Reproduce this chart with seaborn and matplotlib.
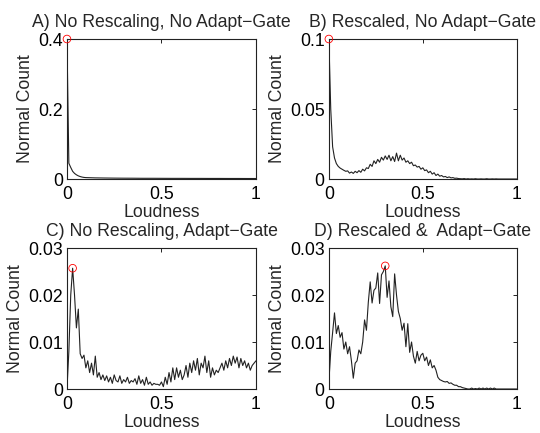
import numpy as np
import pandas as pd
import matplotlib
matplotlib.use("Agg")
import seaborn as sns
from matplotlib import pyplot as plt

########
# DATA #
########

# loudness histogram bins (every 0.01 from 0 to 1)
loudness_bins = np.round(np.linspace(0, 1, 101), 2)

loudness_a = [0.0, 0.01, 0.02, 0.03, 0.04, 0.05, 0.06, 0.07, 0.08, 0.09, 0.10,
              0.15, 0.20, 0.25, 0.30, 0.35, 0.40, 0.45, 0.50, 0.55, 0.60,
              0.65, 0.70, 0.75, 0.80, 0.85, 0.90, 0.95, 1.0]
count_a = [0.400, 0.045, 0.033, 0.022, 0.016, 0.012, 0.009, 0.007, 0.0055, 0.0045, 0.004,
           0.0032, 0.0028, 0.0025, 0.0023, 0.0022, 0.0020, 0.0020, 0.0019, 0.0018, 0.0018,
           0.0017, 0.0017, 0.0016, 0.0016, 0.0015, 0.0015, 0.0014, 0.0014]

count_b = [0.100, 0.050, 0.023, 0.015, 0.011, 0.0090, 0.0078, 0.0070, 0.0062, 0.0055,
           0.0058, 0.0042, 0.0050, 0.0040, 0.0055, 0.0045, 0.0060, 0.0048, 0.0070, 0.0058,
           0.0080, 0.0075, 0.0105, 0.0090, 0.0130, 0.0110, 0.0140, 0.0120, 0.0155, 0.0135,
           0.0165, 0.0140, 0.0170, 0.0130, 0.0160, 0.0125, 0.0185, 0.0130, 0.0170, 0.0135,
           0.0150, 0.0120, 0.0130, 0.0110, 0.0120, 0.0095, 0.0100, 0.0085, 0.0090, 0.0070,
           0.0080, 0.0060, 0.0065, 0.0045, 0.0055, 0.0035, 0.0045, 0.0025, 0.0035, 0.0020,
           0.0025, 0.0015, 0.0018, 0.0010, 0.0015, 0.0008, 0.0010, 0.0005, 0.0006, 0.0003,
           0.0002, 0.0001, 0.0003, 0.0, 0.0002, 0.0, 0.0001, 0.0, 0.0002, 0.0,
           0.0, 0.0001, 0.0, 0.0, 0.0002, 0.0, 0.0, 0.0001, 0.0, 0.0001,
           0.0, 0.0, 0.0, 0.0, 0.0, 0.0, 0.0, 0.0, 0.0, 0.0,
           0.0]

count_c = [0.0, 0.008, 0.020, 0.0257, 0.020, 0.013, 0.017, 0.0075, 0.0065, 0.0072,
           0.0045, 0.0060, 0.0035, 0.0055, 0.0030, 0.0070, 0.0025, 0.0035, 0.0020, 0.0030,
           0.0018, 0.0028, 0.0015, 0.0025, 0.0012, 0.0030, 0.0018, 0.0015, 0.0028, 0.0012,
           0.0020, 0.0015, 0.0025, 0.0012, 0.0018, 0.0015, 0.0022, 0.0010, 0.0028, 0.0012,
           0.0020, 0.0008, 0.0025, 0.0010, 0.0015, 0.0008, 0.0012, 0.0010, 0.0010, 0.0008,
           0.0015, 0.0005, 0.0025, 0.0010, 0.0035, 0.0015, 0.0045, 0.0020, 0.0045, 0.0025,
           0.0040, 0.0020, 0.0030, 0.0050, 0.0025, 0.0055, 0.0035, 0.0060, 0.0040, 0.0065,
           0.0030, 0.0055, 0.0045, 0.0070, 0.0035, 0.0060, 0.0025, 0.0045, 0.0030, 0.0040,
           0.0035, 0.0045, 0.0055, 0.0040, 0.0060, 0.0045, 0.0065, 0.0050, 0.0070, 0.0055,
           0.0068, 0.0045, 0.0065, 0.0050, 0.0060, 0.0045, 0.0055, 0.0040, 0.0050, 0.0055,
           0.0060]

count_d = [0.0015, 0.0080, 0.0120, 0.0162, 0.0118, 0.0135, 0.0110, 0.0120, 0.0085, 0.0100,
           0.0075, 0.0090, 0.0060, 0.0023, 0.0055, 0.0060, 0.0083, 0.0075, 0.0100, 0.0147,
           0.0125, 0.0185, 0.0228, 0.0183, 0.0210, 0.0215, 0.0247, 0.0182, 0.0243, 0.0250,
           0.0262, 0.0195, 0.0230, 0.0175, 0.0154, 0.0245, 0.0200, 0.0165, 0.0150, 0.0125,
           0.0140, 0.0090, 0.0139, 0.0078, 0.0100, 0.0070, 0.0055, 0.0080, 0.0060, 0.0072,
           0.0076, 0.0060, 0.0068, 0.0050, 0.0062, 0.0045, 0.0050, 0.0040, 0.0025, 0.0020,
           0.0018, 0.0016, 0.0015, 0.0016, 0.0012, 0.0013, 0.0010, 0.0008, 0.0008, 0.0005,
           0.0005, 0.0003, 0.0002, 0.0001, 0.0, 0.0, 0.0002, 0.0, 0.0001, 0.0,
           0.0002, 0.0, 0.0002, 0.0, 0.0002, 0.0, 0.0002, 0.0, 0.0002, 0.0,
           0.0, 0.0, 0.0, 0.0, 0.0, 0.0, 0.0, 0.0, 0.0, 0.0,
           0.0]

titles = ["A) No Rescaling, No Adapt\u2212Gate", "B) Rescaled, No Adapt\u2212Gate",
          "C) No Rescaling, Adapt\u2212Gate", "D) Rescaled &  Adapt\u2212Gate"]
x_ticks = [0, 0.5, 1]
x_tick_labels = ["0", "0.5", "1"]
y_ticks_ab = [[0, 0.2, 0.4], [0, 0.05, 0.1]]
y_tick_labels_ab = [["0", "0.2", "0.4"], ["0", "0.05", "0.1"]]
y_ticks_cd = [0, 0.01, 0.02, 0.03]
y_tick_labels_cd = ["0", "0.01", "0.02", "0.03"]

############
# PLOTTING #
############

sns.set_style("white")
plt.rcParams['font.family'] = ['Liberation Sans', 'DejaVu Sans']
plt.rcParams.update({
    "xtick.direction": "in", "ytick.direction": "in",
    "xtick.top": True, "ytick.right": True,
    "xtick.major.size": 3, "ytick.major.size": 3,
    "xtick.major.width": 0.6, "ytick.major.width": 0.6,
    "xtick.color": "black", "ytick.color": "black",
    "axes.edgecolor": "#222222", "axes.linewidth": 0.8,
    "font.size": 12.7,
})

fig = plt.figure(figsize=(5.4, 4.33), dpi=100)

panels = [
    dict(rect=[0.124, 0.5866, 0.350, 0.3233], x=loudness_a, y=count_a,
         ylim=0.4, yt=y_ticks_ab[0], ytl=y_tick_labels_ab[0]),
    dict(rect=[0.609, 0.5866, 0.348, 0.3233], x=loudness_bins, y=count_b,
         ylim=0.1, yt=y_ticks_ab[1], ytl=y_tick_labels_ab[1]),
    dict(rect=[0.124, 0.1016, 0.350, 0.3256], x=loudness_bins, y=count_c,
         ylim=0.03, yt=y_ticks_cd, ytl=y_tick_labels_cd),
    dict(rect=[0.609, 0.1016, 0.348, 0.3256], x=loudness_bins, y=count_d,
         ylim=0.03, yt=y_ticks_cd, ytl=y_tick_labels_cd),
]

for i, p in enumerate(panels):
    ax = fig.add_axes(p["rect"])
    df = pd.DataFrame({"loudness": p["x"], "count": p["y"]})
    sns.lineplot(data=df, x="loudness", y="count", ax=ax, estimator=None,
                 color="#222222", linewidth=0.8)
    # red circle on the histogram peak
    peak = df.loc[df["count"].idxmax()]
    sns.scatterplot(x=[peak["loudness"]], y=[peak["count"]], ax=ax, marker="o",
                    s=30, color="red", facecolors="none", edgecolor="red",
                    linewidth=0.6, clip_on=False, zorder=5)
    ax.set_xlim(0, 1)
    ax.set_ylim(0, p["ylim"])
    ax.set_xticks(x_ticks)
    ax.set_xticklabels(x_tick_labels)
    ax.set_yticks(p["yt"])
    ax.set_yticklabels(p["ytl"])
    ax.tick_params(axis="x", pad=5)
    ax.tick_params(axis="y", pad=3)
    ax.set_xlabel("Loudness", labelpad=1)
    ax.set_ylabel("Normal Count", labelpad=3)
    ax.set_title(titles[i], pad=9, fontsize=12.7)
    for s in ax.spines.values():
        s.set_visible(True)

fig.savefig("out.png", dpi=100)
